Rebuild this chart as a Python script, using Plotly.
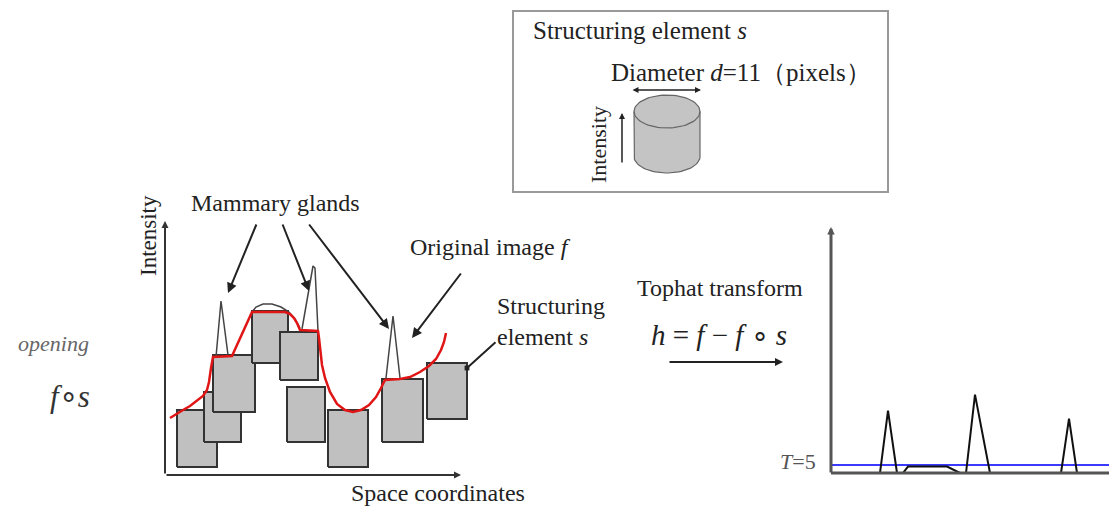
import numpy as np
import plotly.graph_objects as go

W, H = 1117, 508
OFF = 8  # the page body margin; the figure starts 8 px in from the window corner
FONT = "Liberation Serif, Times New Roman, serif"
INK = "#222222"

# ---------------- left panel: original image f and its opening f∘s ----------------
# space coordinate (x) / intensity (y) of each placed structuring element s
box_x0 = [12, 39, 48, 87, 115, 122, 163, 217, 262]
box_x1 = [52, 76, 90, 123, 153, 160, 203, 258, 302]
box_y0 = [8, 33, 63, 112, 95, 33, 8, 33, 56]
box_y1 = [65, 83, 120, 164, 143, 88, 65, 96, 112]

# opening f∘s (red)
open_x = [5, 11, 18, 25, 32, 38, 42, 44, 46, 48, 67, 87, 120, 125, 129, 132, 135, 153, 154, 155,
          157, 160, 165, 172, 180, 188, 196, 204, 211, 216, 220, 235, 245, 255, 264, 271, 276, 279, 281]
open_y = [57, 61, 65, 69, 74, 79, 85, 93, 107, 118, 119, 163, 163, 161, 157, 152, 145, 144, 137, 125,
          110, 97, 83, 71, 65, 63, 65, 70, 78, 87, 95, 96, 98, 103, 109, 116, 125, 133, 142]

# original image f where it departs from the opening (mammary gland peaks and dome)
spike1_x, spike1_y = [51, 56, 63], [118, 174, 120]
dome_x = [87, 91, 98, 107, 116, 124, 130, 135]
dome_y = [163, 168, 171, 171, 168, 163, 156, 147]
spike2_x, spike2_y = [137, 148, 150, 153], [146, 209, 207, 144]
spike3_x, spike3_y = [221, 228, 235], [97, 159, 97]

# ---------------- right panel: tophat h = f - f∘s ----------------
peak1_x, peak1_y = [49, 57, 66], [0, 39, 0]
bump_x, bump_y = [72, 77, 116, 129], [0, 4, 4, 0]
peak2_x, peak2_y = [135, 144, 159], [0, 49, 0]
peak3_x, peak3_y = [230, 238, 246], [0, 34, 0]
threshold_T = 5

# ---------------- structuring element icon (cylinder) ----------------
cyl_cx, cyl_rx, cyl_ry = 667, 33, 16.5
cyl_top, cyl_bot = 111.5, 156.5

FW, FH = W - OFF, H - OFF


def px_dom_x(a, b):
    return [(a - OFF) / FW, (b - OFF) / FW]


def px_dom_y(top, bottom):
    return [(H - bottom) / FH, (H - top) / FH]


fig = go.Figure()

# cylinder on the overlay axis (window pixel frame)
t1 = np.linspace(np.pi, 0, 40)
t2 = np.linspace(0, -np.pi, 40)
cx = np.concatenate([[cyl_cx - cyl_rx], cyl_cx + cyl_rx * np.cos(t1), cyl_cx + cyl_rx * np.cos(t2)])
cy = np.concatenate([[cyl_top], cyl_bot + cyl_ry * np.sin(t1), cyl_top + cyl_ry * np.sin(t2)])
fig.add_trace(go.Scatter(x=cx, y=cy, mode="lines", fill="toself", fillcolor="#c4c4c4",
                         line=dict(color="#666", width=1.2), xaxis="x", yaxis="y", hoverinfo="skip"))
fig.add_trace(go.Scatter(x=cyl_cx + cyl_rx * np.cos(t1), y=cyl_top + cyl_ry * np.sin(t1), mode="lines",
                         line=dict(color="#666", width=1.2), xaxis="x", yaxis="y", hoverinfo="skip"))

# structuring elements
for a, b, c, d in zip(box_x0, box_x1, box_y0, box_y1):
    fig.add_trace(go.Scatter(x=[a, b, b, a, a], y=[c, c, d, d, c], mode="lines", fill="toself",
                             fillcolor="#c0c0c0", line=dict(color="#333", width=2),
                             xaxis="x2", yaxis="y2", hoverinfo="skip"))

for sx, sy in [(spike1_x, spike1_y), (dome_x, dome_y), (spike2_x, spike2_y), (spike3_x, spike3_y)]:
    fig.add_trace(go.Scatter(x=sx, y=sy, mode="lines", line=dict(color="#444", width=1.5),
                             xaxis="x2", yaxis="y2", hoverinfo="skip"))

fig.add_trace(go.Scatter(x=open_x, y=open_y, mode="lines", line=dict(color="#e01515", width=2.5),
                         xaxis="x2", yaxis="y2", hoverinfo="skip"))

# right panel
fig.add_trace(go.Scatter(x=[0, 286], y=[threshold_T, threshold_T], mode="lines",
                         line=dict(color="#3a3aff", width=2), xaxis="x3", yaxis="y3", hoverinfo="skip"))
for sx, sy in [(peak1_x, peak1_y), (bump_x, bump_y), (peak2_x, peak2_y), (peak3_x, peak3_y)]:
    fig.add_trace(go.Scatter(x=sx, y=sy, mode="lines", line=dict(color="#111", width=2),
                             xaxis="x3", yaxis="y3", hoverinfo="skip"))

hidden = dict(visible=False, showgrid=False, zeroline=False, fixedrange=True)
fig.update_layout(
    width=FW, height=FH, margin=dict(l=0, r=0, t=0, b=0),
    paper_bgcolor="white", plot_bgcolor="rgba(0,0,0,0)", showlegend=False,
    xaxis=dict(range=[OFF, W], domain=[0, 1], **hidden),
    yaxis=dict(range=[H, OFF], domain=[0, 1], **hidden),
    xaxis2=dict(range=[0, 315], domain=px_dom_x(165, 480), anchor="y2", **hidden),
    yaxis2=dict(range=[0, 253], domain=px_dom_y(222, 475), anchor="x2", **hidden),
    xaxis3=dict(range=[0, 286], domain=px_dom_x(831, W), anchor="y3", **hidden),
    yaxis3=dict(range=[0, 245 / 1.6], domain=px_dom_y(228, 473), anchor="x3", **hidden),
)

shapes = [
    dict(type="rect", x0=513, y0=11, x1=888, y1=192, line=dict(color="#999", width=2)),
    dict(type="line", x0=831, y0=473, x1=W, y1=473, line=dict(color="#555", width=3)),
]
for s in shapes:
    s.update(xref="x", yref="y", layer="above")
fig.update_layout(shapes=shapes)


def arrow(x0, y0, x1, y1, width=2, size=1.0, head=2, color=INK, side="end"):
    fig.add_annotation(x=x1, y=y1, ax=x0, ay=y0, xref="x", yref="y", axref="x", ayref="y",
                       text="", showarrow=True, arrowhead=head, arrowsize=size, arrowwidth=width,
                       arrowcolor=color, arrowside=side, startarrowhead=head, startarrowsize=size)


# axes of left panel
arrow(165, 475, 165, 221, width=2, size=0.7, color="#333")
arrow(165, 475, 461, 475, width=2, size=0.7, color="#333")
# right panel y axis
arrow(831, 474, 831, 227, width=3, size=0.5, color="#555")
# pointers
arrow(257, 223, 228, 293)
arrow(282, 223, 309, 291)
arrow(308, 223, 389, 329)
arrow(462, 272, 412, 338)
arrow(497, 341, 467, 368, head=7, size=0.6)
arrow(668, 362, 783, 362, width=2, size=0.8)
arrow(631, 90, 701, 90, width=1.5, size=0.8, side="end+start")
arrow(622, 164, 622, 113, width=1.5, size=0.8)


def label(x, y, text, size=24, color=INK, angle=0, xanchor="center"):
    fig.add_annotation(x=x, y=y, xref="x", yref="y", text=text, showarrow=False, textangle=angle,
                       xanchor=xanchor, yanchor="middle", font=dict(family=FONT, size=size, color=color))


label(531, 30, "Structuring element <i>s</i>", size=25, xanchor="left")
label(609, 72, "Diameter <i>d</i>=11（pixels）", size=25, xanchor="left")
label(598, 145, "Intensity", size=22, angle=-90)
label(275, 203, "Mammary glands")
label(148, 236, "Intensity", size=23, angle=-90)
label(490, 247, "Original image <i>f</i>")
label(495, 306, "Structuring", xanchor="left")
label(495, 337, "element <i>s</i>", xanchor="left")
label(438, 493, "Space coordinates")
label(53, 343, "<i>opening</i>", size=22, color="#666")
label(70, 396, "<i>f</i>∘<i>s</i>", size=31, color="#333")
label(720, 288, "Tophat transform")
label(719, 335, "<i>h</i> = <i>f</i> − <i>f</i> ∘ <i>s</i>", size=29)
label(798, 461, "<i>T</i>=5", size=22, color="#555")

fig.write_html("out.html")
